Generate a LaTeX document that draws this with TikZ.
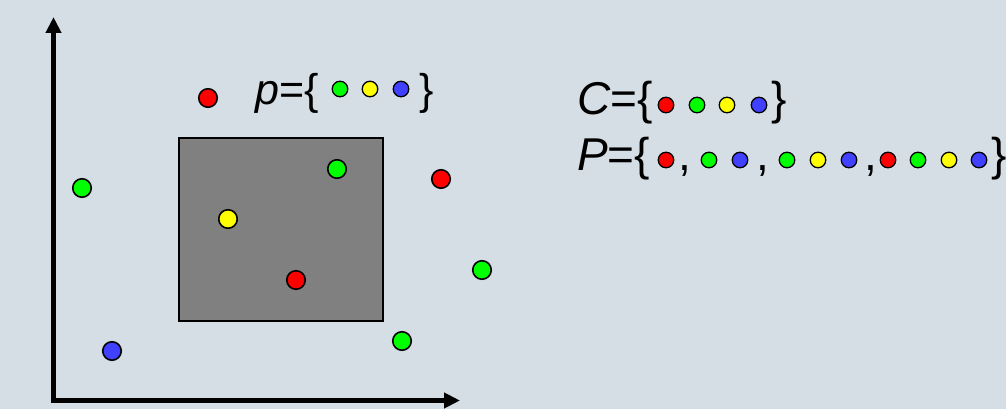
\documentclass[tikz,border=0pt]{standalone}
\usepackage{fontspec}
\setmainfont{Liberation Sans}
\usetikzlibrary{arrows.meta}

\definecolor{bg}{HTML}{D6DEE5}
\definecolor{dred}{HTML}{FF0000}
\definecolor{dgreen}{HTML}{00FF00}
\definecolor{dyellow}{HTML}{FFFF00}
\definecolor{dblue}{HTML}{4040FF}

\begin{document}
\begin{tikzpicture}[
    x=1pt, y=-1pt,
    font=\fontsize{46}{50}\selectfont,
    pt/.style={
        circle,
        draw=black,
        line width=1.6pt,
        minimum size=18.5pt,
        inner sep=0pt
    },
    spt/.style={pt, line width=1.3pt, minimum size=15.5pt},
    lbl/.style={anchor=base west, inner sep=0pt},
    axis/.style={line width=5pt, line join=miter,
        {Triangle[length=16pt,width=15pt]}-{Triangle[length=16pt,width=15pt]}}
]

% Background
\fill[bg] (0,0) rectangle (1006,409);
\useasboundingbox (0,0) rectangle (1006,409);

% Axes
\coordinate (o) at (53.5,400.5);
\coordinate (ytop) at (53.5,17);
\coordinate (xend) at (460,400.5);
\draw [axis] (ytop) -- (o) -- (xend);

% Query box
\node (box) [draw=black, line width=2pt, fill=gray, inner sep=0pt,
    minimum width=204pt, minimum height=183pt] at (281,229.5) {};

% Points
\node (q)  [pt, fill=dred]    at (208,98)  {};
\node (g1) [pt, fill=dgreen]  at (82,188)  {};
\node (g2) [pt, fill=dgreen]  at (337,169) {};
\node (y1) [pt, fill=dyellow] at (228,219) {};
\node (r1) [pt, fill=dred]    at (296,280) {};
\node (r2) [pt, fill=dred]    at (441,179) {};
\node (g3) [pt, fill=dgreen]  at (482,270) {};
\node (g4) [pt, fill=dgreen]  at (402,341) {};
\node (b1) [pt, fill=dblue]   at (112,351) {};

% p = { ... }
\node (plbl) [lbl, font=\fontsize{43}{48}\selectfont] at (255,105) {\textit{p}=\{};
\foreach \x/\c [count=\i] in {340/dgreen, 370/dyellow, 401/dblue}
    \node (p\i) [spt, fill=\c] at (\x,89) {};
\node (pend) [lbl, font=\fontsize{43}{48}\selectfont] at (419,105) {\}};

% C = { ... }
\node (clbl) [lbl] at (577,115) {\textit{C}=\{};
\foreach \x/\c [count=\i] in {666/dred, 697/dgreen, 727/dyellow, 759/dblue}
    \node (c\i) [spt, fill=\c] at (\x,105) {};
\node (cend) [lbl] at (771,115) {\}};

% P = { ... }
\node (Plbl) [lbl] at (577,170) {\textit{P}=\{};
\foreach \x/\c [count=\i] in {666/dred, 709/dgreen, 740/dblue, 787/dgreen,
    818/dyellow, 849/dblue, 888/dred, 918/dgreen, 949/dyellow, 979/dblue}
    \node (s\i) [spt, fill=\c] at (\x,160) {};
\node (k1) [lbl] at (678,170) {,};
\node (k2) [lbl] at (756,170) {,};
\node (k3) [lbl] at (864,170) {,};
\node (Pend) [lbl] at (991,170) {\}};

\end{tikzpicture}
\end{document}
